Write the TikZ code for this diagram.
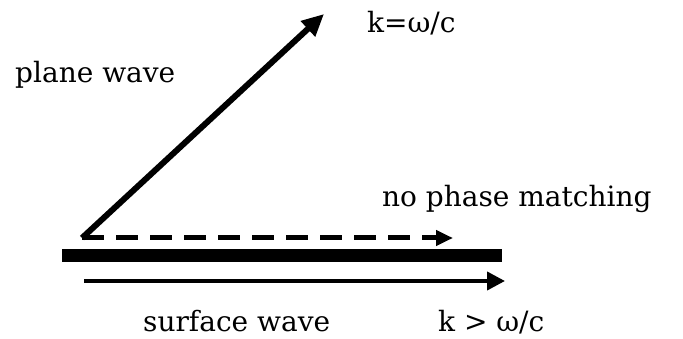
\documentclass[tikz,border=0pt]{standalone}
\usepackage{fontspec}
\setmainfont{DejaVu Serif}
\usetikzlibrary{arrows.meta}

\begin{document}
\begin{tikzpicture}[x=1pt, y=-1pt, every node/.style={font=\fontsize{28}{32}\selectfont, inner sep=0pt}]

% Frame
\useasboundingbox (0,0) rectangle (683,339);

% Points
\coordinate (origin) at (82,238);
\coordinate (kvac) at (324,14);
\coordinate (kdash) at (453,238);
\coordinate (barleft) at (62,255.5);
\coordinate (barright) at (502,255.5);
\coordinate (swleft) at (84,281);
\coordinate (swright) at (505,281);

% Metal surface
\draw[line width=13pt] (barleft) -- (barright);

% Plane wave
\draw[line width=6pt, -{Triangle[length=22pt, width=20pt]}] (origin) -- (kvac);

% Projection, no phase matching
\draw[line width=5pt, dash pattern=on 22pt off 12pt,
      -{Triangle[length=17pt, width=15pt]}] (origin) -- (kdash);

% Surface wave
\draw[line width=4pt, -{Triangle[length=18pt, width=18pt]}] (swleft) -- (swright);

% Labels
\node[anchor=base west] (lplane) at (15,83) {plane wave};
\node[anchor=base west] (lkvac) at (367,33) {k=ω/c};
\node[anchor=base west] (lnopm) at (382,207) {no phase matching};
\node[anchor=base west] (lsurf) at (143,331) {surface wave};
\node[anchor=base west] (lksurf) at (438,331) {k > ω/c};

\end{tikzpicture}
\end{document}
